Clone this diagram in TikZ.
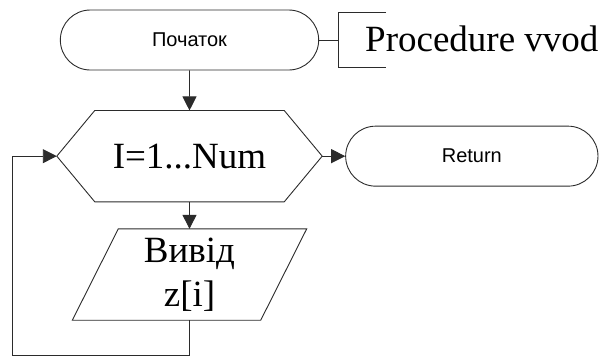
\documentclass[tikz,border=0pt]{standalone}
\usepackage{fontspec}
\setmainfont{Liberation Serif}
\setsansfont{Liberation Sans}
\usetikzlibrary{arrows.meta, positioning, shapes.misc}
\definecolor{ink}{HTML}{2B2B2B}
\tikzset{
  base/.style={draw=ink, line width=0.9pt},
  terminal/.style={
    base,
    rounded rectangle,
    font=\sffamily\fontsize{20}{24}\selectfont,
    minimum height=60pt
  },
  bigtext/.style={font=\fontsize{37}{44}\selectfont, align=center, inner sep=0pt},
  loophead/.style={bigtext, minimum width=265pt, minimum height=91pt},
  iobox/.style={bigtext, minimum width=188pt, minimum height=91pt},
  arrow/.style={-{Triangle[length=14pt, width=14pt]}, line width=0.9pt, draw=ink}
}

\begin{document}
\begin{tikzpicture}[x=1pt, y=-1pt]
\useasboundingbox (0,0) rectangle (609,360);

\node[terminal, minimum width=265pt] (start) at (189.5,40) {Початок};

\node[loophead, below=40pt of start] (forloop) {I=1...Num};

\node[terminal, minimum width=259pt, right=23pt of forloop] (ret) {Return};

\node[iobox, below=27pt of forloop] (out) {Вивід\\z[i]};

% loop header hexagon
\draw[base] (forloop.west) -- ([xshift=38pt]forloop.north west)
  -- ([xshift=-38pt]forloop.north east) -- (forloop.east)
  -- ([xshift=-38pt]forloop.south east) -- ([xshift=38pt]forloop.south west) -- cycle;

% output parallelogram
\draw[base] ([xshift=23pt]out.north west) -- ([xshift=23pt]out.north east)
  -- ([xshift=-23pt]out.south east) -- ([xshift=-23pt]out.south west) -- cycle;

% comment bracket
\node[bigtext, anchor=base west] (title) at (365,51) {Procedure vvod};
\coordinate (brace) at (338,40);
\draw[base] (start.east) -- (brace);
\draw[base] (386,12) -- (338,12) -- (338,67) -- (386,67);

\draw[arrow] (start) -- (forloop);
\draw[arrow] (forloop) -- (ret);
\draw[arrow] (forloop) -- (out);

\coordinate (corner) at (12,355);
\draw[arrow] (out.south) |- (corner) |- (forloop.west);

\end{tikzpicture}
\end{document}
